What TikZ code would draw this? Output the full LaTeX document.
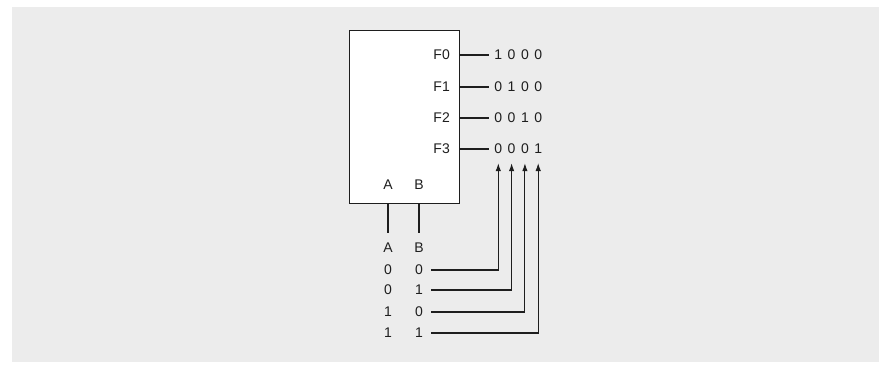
\documentclass[tikz,border=0pt]{standalone}
\usepackage{fontspec}
\setmainfont{Liberation Sans}
\usepackage{xcolor}
\usetikzlibrary{arrows.meta,positioning}
\definecolor{panel}{RGB}{236,236,236}
\definecolor{ink}{RGB}{30,30,30}

\begin{document}
\begin{tikzpicture}[
  x=1pt, y=-1pt,
  decoder/.style={draw=ink, line width=1.1pt, fill=white, anchor=north west,
                  minimum width=110pt, minimum height=173pt, inner sep=0pt},
  lbl/.style={text=ink, inner sep=1pt, font=\fontsize{14}{16}\selectfont},
  wire/.style={draw=ink, line width=1.1pt},
  feed/.style={wire, -{Latex[length=8pt,width=5.5pt]}}
]
  \useasboundingbox (0,0) rectangle (882,365);
  \fill[panel] (12,7) rectangle (879,362);

  \node[decoder] (dec) at (349,30) {};

  % outputs F0..F3 and their codes
  \foreach \r/\y/\code in {0/55/{1,0,0,0}, 1/87/{0,1,0,0}, 2/118/{0,0,1,0}, 3/149/{0,0,0,1}} {
    \node[lbl, anchor=east] (f\r) at (451,\y) {F\r};
    \foreach \d [count=\c] in \code
      \node[lbl] (o\r-\c) at ({485+13.3*\c},\y) {\d};
    \draw[wire] (f\r -| dec.east) -- ([xshift=-4pt]o\r-1.west);
  }

  % inputs
  \node[lbl] (ina) at (388,185) {A};
  \node[lbl] (inb) at (419,185) {B};
  \node[lbl] (ta) at (388,248) {A};
  \node[lbl] (tb) at (419,248) {B};
  \draw[wire] (ina |- dec.south) -- ([yshift=9pt]ta.north);
  \draw[wire] (inb |- dec.south) -- ([yshift=9pt]tb.north);

  % truth table rows feeding the code columns
  \foreach \i/\y/\a/\b in {1/270/0/0, 2/290/0/1, 3/312/1/0, 4/333/1/1} {
    \node[lbl] (r\i a) at (388,\y) {\a};
    \node[lbl] (r\i b) at (419,\y) {\b};
    \draw[feed] ([xshift=7pt]r\i b.east) -| ([yshift=-8pt]o3-\i.south);
  }
\end{tikzpicture}
\end{document}
